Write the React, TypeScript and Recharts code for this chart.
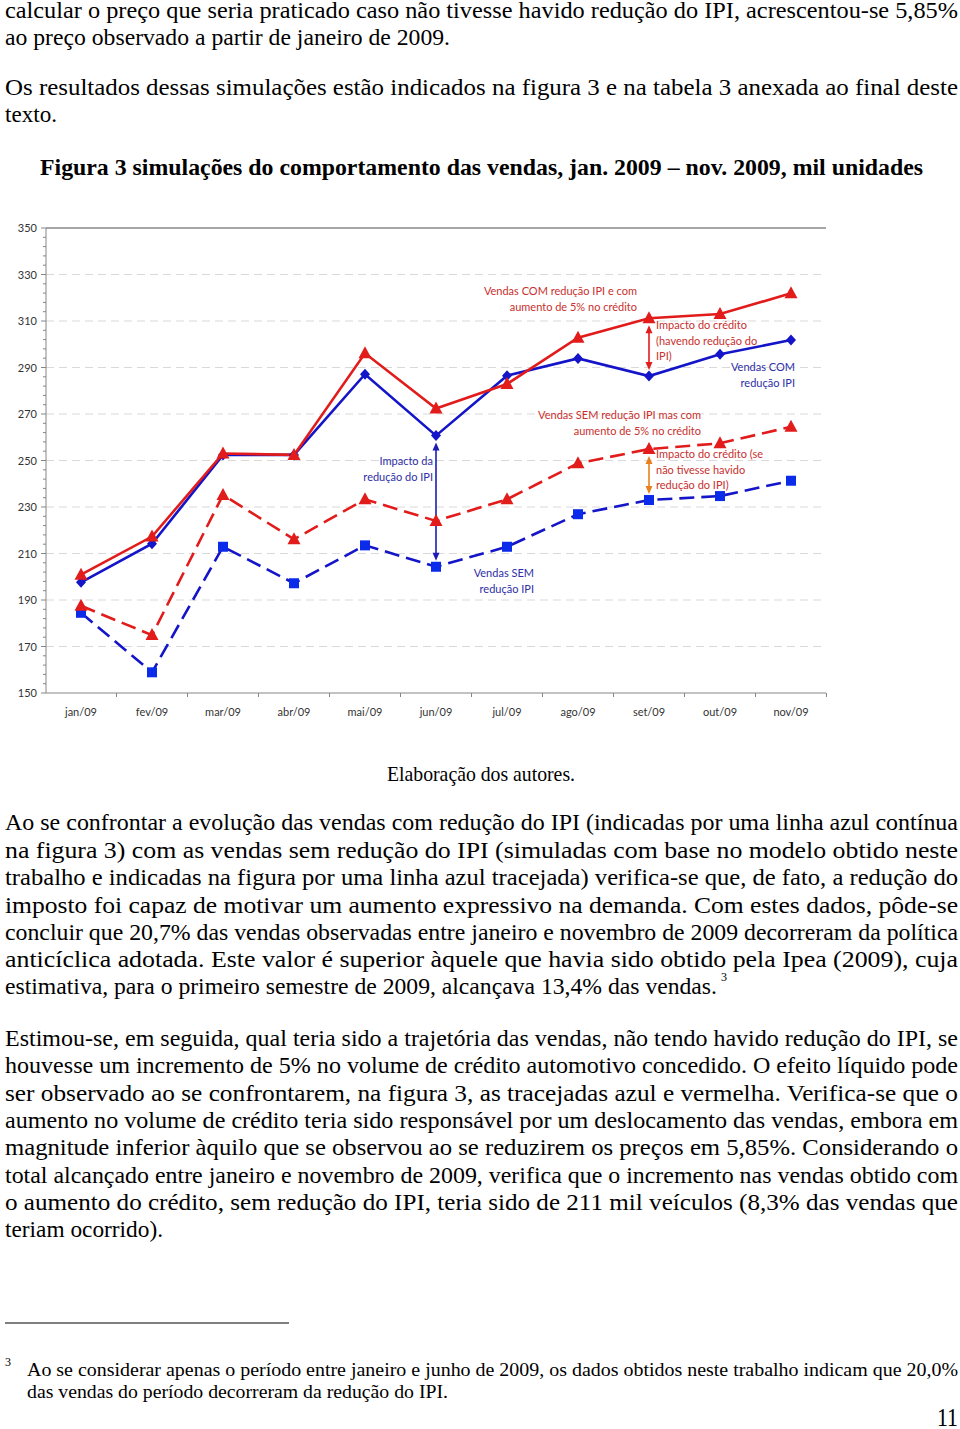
import { LineChart, Line, XAxis, YAxis, ReferenceLine } from 'recharts'

const meses = ['jan/09', 'fev/09', 'mar/09', 'abr/09', 'mai/09', 'jun/09', 'jul/09', 'ago/09', 'set/09', 'out/09', 'nov/09']
const vendasComIPI = [197.6, 214.2, 252.4, 252.4, 287.1, 260.7, 286.5, 293.9, 286.3, 295.7, 301.8]
const vendasComIPICredito = [200.9, 217.3, 253.0, 252.4, 296.1, 272.4, 282.9, 302.8, 311.2, 313.0, 321.9]
const vendasSemIPICredito = [187.5, 174.9, 235.2, 216.1, 233.3, 224.0, 233.3, 248.8, 254.9, 257.4, 264.5]
const vendasSemIPI = [184.5, 158.9, 212.9, 197.2, 213.5, 204.3, 212.9, 226.9, 233.0, 234.7, 241.3]

const yMajor = [150, 170, 190, 210, 230, 250, 270, 290, 310, 330, 350]
const grade = [170, 190, 210, 230, 250, 270, 290, 310, 330]

// ticks menores a cada 4 unidades entre os maiores
const yTicks: number[] = []
yMajor.forEach((v, i) => {
  yTicks.push(v)
  if (i < yMajor.length - 1) for (let k = 1; k < 5; k++) yTicks.push(v + k * 4)
})

const data = meses.map((m, i) => ({
  mes: m,
  comIPI: vendasComIPI[i],
  comIPICredito: vendasComIPICredito[i],
  semIPICredito: vendasSemIPICredito[i],
  semIPI: vendasSemIPI[i],
}))

const PLOT_LEFT = 46
const PLOT_BOTTOM = 483
const HALF_STEP = 35.5
const AXIS = '#868686'
const FONT_CHART = 'Lato, "Open Sans", sans-serif'
const FONT_PAGE = '"Liberation Serif", "Times New Roman", serif'

const AZUL = '#1414C8'
const AZUL_QUAD = '#0B2BEA'
const VERMELHO = '#E21B1B'
const LARANJA = '#E8801F'
const TXT_VERM = '#C8302E'
const TXT_AZUL = '#2E2EA6'

function YTick(p: any) {
  const v = p.payload.value
  const major = yMajor.includes(v)
  return (
    <g>
      <line x1={PLOT_LEFT - (major ? 5 : 3)} x2={PLOT_LEFT} y1={p.y} y2={p.y} stroke={AXIS} />
      {major && (
        <text x={PLOT_LEFT - 9} y={p.y + 4} textAnchor="end" fontSize={11} fill="#333" fontFamily={FONT_CHART}>
          {v}
        </text>
      )}
    </g>
  )
}

function XTick(p: any) {
  return (
    <g>
      <line x1={p.x + HALF_STEP} x2={p.x + HALF_STEP} y1={PLOT_BOTTOM} y2={PLOT_BOTTOM + 4} stroke={AXIS} />
      <text x={p.x} y={PLOT_BOTTOM + 23} textAnchor="middle" fontSize={11} fill="#333" fontFamily={FONT_CHART}>
        {p.payload.value}
      </text>
    </g>
  )
}

const triangulo = (nome: string) => (p: any) => {
  if (p.cx == null) return <g key={`${nome}-${p.index}`} />
  const { cx, cy } = p
  return <polygon key={`${nome}-${p.index}`} points={`${cx},${cy - 7} ${cx - 6.5},${cy + 5} ${cx + 6.5},${cy + 5}`} fill={VERMELHO} />
}
const losango = (p: any) => {
  if (p.cx == null) return <g key={`los-${p.index}`} />
  const { cx, cy } = p
  return <polygon key={`los-${p.index}`} points={`${cx},${cy - 5.5} ${cx + 5},${cy} ${cx},${cy + 5.5} ${cx - 5},${cy}`} fill={AZUL} />
}
const quadrado = (p: any) => {
  if (p.cx == null) return <g key={`quad-${p.index}`} />
  return <rect key={`quad-${p.index}`} x={p.cx - 5} y={p.cy - 5} width={10} height={10} fill={AZUL_QUAD} />
}

// seta vertical com duas pontas entre dois pontos das séries
const seta = (cor: string) => (p: any) => {
  const x = p.x1
  const top = Math.min(p.y1, p.y2) + 7
  const bot = Math.max(p.y1, p.y2) - 6
  return (
    <g>
      <line x1={x} x2={x} y1={top + 5} y2={bot - 5} stroke={cor} strokeWidth={1.6} />
      <polygon points={`${x},${top} ${x - 3.5},${top + 8} ${x + 3.5},${top + 8}`} fill={cor} />
      <polygon points={`${x},${bot} ${x - 3.5},${bot - 8} ${x + 3.5},${bot - 8}`} fill={cor} />
    </g>
  )
}

const anotacoes = [
  { linhas: ['Vendas COM redução IPI e com', 'aumento de 5% no crédito'], x: 637, y: 283, align: 'right', cor: TXT_VERM },
  { linhas: ['Impacto do crédito', '(havendo redução do', 'IPI)'], x: 656, y: 317, align: 'left', cor: TXT_VERM },
  { linhas: ['Vendas COM', 'redução IPI'], x: 795, y: 359, align: 'right', cor: TXT_AZUL },
  { linhas: ['Vendas SEM redução IPI mas com', 'aumento de 5% no crédito'], x: 701, y: 407, align: 'right', cor: TXT_VERM },
  { linhas: ['Impacto do crédito (se', 'não tivesse havido', 'redução do IPI)'], x: 656, y: 446, align: 'left', cor: TXT_VERM },
  { linhas: ['Impacto da', 'redução do IPI'], x: 433, y: 453, align: 'right', cor: TXT_AZUL },
  { linhas: ['Vendas SEM', 'redução IPI'], x: 534, y: 565, align: 'right', cor: TXT_AZUL },
]

// linhas do texto da página: texto, x, linha de base, largura, tamanho
type Linha = { t: string; x: number; y: number; w: number; s: number; b?: boolean }
const J = 953
const textoPagina: Linha[] = [
  { t: 'calcular o preço que seria praticado caso não tivesse havido redução do IPI, acrescentou-se 5,85%', x: 5, y: 18, w: J, s: 23 },
  { t: 'ao preço observado a partir de janeiro de 2009.', x: 5, y: 45, w: 445, s: 23 },
  { t: 'Os resultados dessas simulações estão indicados na figura 3 e na tabela 3 anexada ao final deste', x: 5, y: 95, w: J, s: 23 },
  { t: 'texto.', x: 5, y: 122, w: 52, s: 23 },
  { t: 'Figura 3 simulações do comportamento das vendas, jan. 2009 – nov. 2009, mil unidades', x: 40, y: 175, w: 883, s: 23, b: true },
  { t: 'Elaboração dos autores.', x: 387, y: 781, w: 188, s: 22 },
  { t: 'Ao se confrontar a evolução das vendas com redução do IPI (indicadas por uma linha azul contínua', x: 5, y: 830, w: J, s: 23 },
  { t: 'na figura 3) com as vendas sem redução do IPI (simuladas com base no modelo obtido neste', x: 5, y: 858, w: J, s: 23 },
  { t: 'trabalho e indicadas na figura por uma linha azul tracejada) verifica-se que, de fato, a redução do', x: 5, y: 885, w: J, s: 23 },
  { t: 'imposto foi capaz de motivar um aumento expressivo na demanda. Com estes dados, pôde-se', x: 5, y: 913, w: J, s: 23 },
  { t: 'concluir que 20,7% das vendas observadas entre janeiro e novembro de 2009 decorreram da política', x: 5, y: 940, w: J, s: 23 },
  { t: 'anticíclica adotada. Este valor é superior àquele que havia sido obtido pela Ipea (2009), cuja', x: 5, y: 967, w: J, s: 23 },
  { t: 'estimativa, para o primeiro semestre de 2009, alcançava 13,4% das vendas.', x: 5, y: 994, w: 712, s: 23 },
  { t: '3', x: 721, y: 981, w: 6, s: 13 },
  { t: 'Estimou-se, em seguida, qual teria sido a trajetória das vendas, não tendo havido redução do IPI, se', x: 5, y: 1046, w: J, s: 23 },
  { t: 'houvesse um incremento de 5% no volume de crédito automotivo concedido. O efeito líquido pode', x: 5, y: 1073, w: J, s: 23 },
  { t: 'ser observado ao se confrontarem, na figura 3, as tracejadas azul e vermelha. Verifica-se que o', x: 5, y: 1101, w: J, s: 23 },
  { t: 'aumento no volume de crédito teria sido responsável por um deslocamento das vendas, embora em', x: 5, y: 1128, w: J, s: 23 },
  { t: 'magnitude inferior àquilo que se observou ao se reduzirem os preços em 5,85%. Considerando o', x: 5, y: 1155, w: J, s: 23 },
  { t: 'total alcançado entre janeiro e novembro de 2009, verifica que o incremento nas vendas obtido com', x: 5, y: 1183, w: J, s: 23 },
  { t: 'o aumento do crédito, sem redução do IPI, teria sido de 211 mil veículos (8,3% das vendas que', x: 5, y: 1210, w: J, s: 23 },
  { t: 'teriam ocorrido).', x: 5, y: 1237, w: 158, s: 23 },
  { t: '3', x: 5, y: 1366, w: 6, s: 13 },
  { t: 'Ao se considerar apenas o período entre janeiro e junho de 2009, os dados obtidos neste trabalho indicam que 20,0%', x: 27, y: 1376, w: 931, s: 19 },
  { t: 'das vendas do período decorreram da redução do IPI.', x: 27, y: 1398, w: 421, s: 19 },
  { t: '11', x: 937, y: 1426, w: 21, s: 25 },
]

export default function App() {
  return (
    <div style={{ position: 'relative', width: 960, height: 1429, background: '#fff', overflow: 'hidden' }}>
      <style>{'body{margin:0}'}</style>
      <svg width={960} height={1429} style={{ position: 'absolute', left: 0, top: 0 }}>
        {textoPagina.map((l, i) => (
          <text
            key={i}
            x={l.x}
            y={l.y}
            fontSize={l.s}
            fontWeight={l.b ? 'bold' : 'normal'}
            fontFamily={FONT_PAGE}
            fill="#000"
            textLength={l.w}
            lengthAdjust="spacingAndGlyphs"
          >
            {l.t}
          </text>
        ))}
        <line x1={5} x2={289} y1={1323} y2={1323} stroke="#000" strokeWidth={1} />
      </svg>

      <div style={{ position: 'absolute', left: 0, top: 210 }}>
        <LineChart width={840} height={530} data={data} margin={{ top: 18, right: 14, bottom: 10, left: 0 }}>
          {grade.map((v) => (
            <ReferenceLine key={v} y={v} stroke="#d9d9d9" strokeDasharray="8 5" />
          ))}
          <ReferenceLine y={350} stroke="#a6a6a6" strokeWidth={2} />
          <XAxis
            dataKey="mes"
            padding={{ left: 35, right: 35 }}
            axisLine={{ stroke: AXIS }}
            tickLine={false}
            interval={0}
            height={37}
            tick={(p: any) => <XTick {...p} />}
          />
          <YAxis
            domain={[150, 350]}
            ticks={yTicks}
            interval={0}
            width={46}
            axisLine={{ stroke: AXIS }}
            tickLine={false}
            tick={(p: any) => <YTick {...p} />}
          />
          <YAxis yAxisId="borda" orientation="right" domain={[150, 350]} width={0} tick={false} tickLine={false} axisLine={{ stroke: '#a6a6a6', strokeWidth: 2 }} />

          <ReferenceLine
            segment={[{ x: meses[5], y: vendasComIPI[5] }, { x: meses[5], y: vendasSemIPI[5] }]}
            shape={seta('#1C1CB4')}
          />
          <ReferenceLine
            segment={[{ x: meses[8], y: vendasComIPICredito[8] }, { x: meses[8], y: vendasComIPI[8] }]}
            shape={seta(VERMELHO)}
          />
          <ReferenceLine
            segment={[{ x: meses[8], y: vendasSemIPICredito[8] }, { x: meses[8], y: vendasSemIPI[8] }]}
            shape={seta(LARANJA)}
          />

          <Line dataKey="semIPI" stroke={AZUL} strokeWidth={2.6} strokeDasharray="15 7" dot={quadrado} isAnimationActive={false} />
          <Line dataKey="semIPICredito" stroke={VERMELHO} strokeWidth={2.6} strokeDasharray="15 7" dot={triangulo('tsc')} isAnimationActive={false} />
          <Line dataKey="comIPI" stroke={AZUL} strokeWidth={2.6} dot={losango} isAnimationActive={false} />
          <Line dataKey="comIPICredito" stroke={VERMELHO} strokeWidth={2.6} dot={triangulo('tcc')} isAnimationActive={false} />
        </LineChart>
      </div>

      {anotacoes.map((a, i) => (
        <div
          key={i}
          style={{
            position: 'absolute',
            top: a.y,
            left: a.align === 'left' ? a.x : undefined,
            right: a.align === 'right' ? 960 - a.x : undefined,
            textAlign: a.align as any,
            color: a.cor,
            fontFamily: FONT_CHART,
            fontSize: 11,
            lineHeight: '15.5px',
            whiteSpace: 'nowrap',
          }}
        >
          {a.linhas.map((l, j) => (
            <div key={j}>{l}</div>
          ))}
        </div>
      ))}
    </div>
  )
}
